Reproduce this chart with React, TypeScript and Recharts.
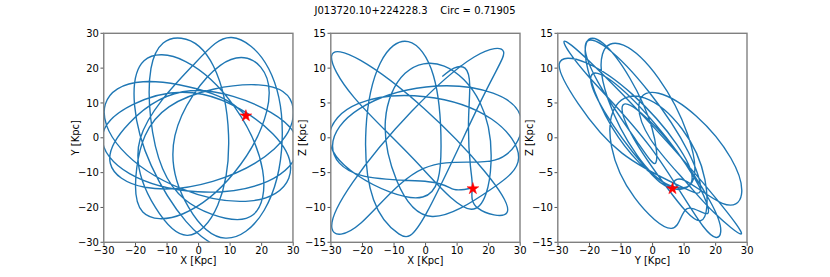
import React from 'react';
import { ComposedChart, Line, Scatter, XAxis, YAxis } from 'recharts';

// ---------- text ----------
const titleText = 'J013720.10+224228.3    Circ = 0.71905';
const xLabels = ['X [Kpc]', 'X [Kpc]', 'Y [Kpc]'];
const yLabels = ['Y [Kpc]', 'Z [Kpc]', 'Z [Kpc]'];

// ---------- ticks ----------
const ticks30 = [-30, -20, -10, 0, 10, 20, 30];
const ticks15 = [-15, -10, -5, 0, 5, 10, 15];

// ---------- star (current position) ----------
const starX = 15.0;
const starY = 6.3;
const starZ = -7.3;

// ---------- orbit, X-Y projection ----------
const xyX = [
  15.0,
  4.5, -17.6, -29.6, -24.6, -5.5, 16.6, 28.6, 23.6,
  1.2, -20.9, -30.5, -21.9, -0.2, 21.9, 31.5, 22.9,
  -2.5, -22.0, -28.0, -17.0, 4.5, 24.0, 30.0, 19.0,
  -9.4, -19.6, -17.7, -4.9, 11.4, 21.6, 19.7, 6.9,
  -7.5, -3.2, 8.5, 20.8, 26.5, 22.2, 10.5, -1.8,
  -18.5, -13.7, -3.5, 6.1, 9.5, 4.7, -5.5, -15.1,
  -11.4, 4.1, 17.3, 20.3, 11.4, -4.1, -17.3, -20.3,
  -15.0, -4.0, 5.3,
];
const xyY = [
  6.3,
  12.6, 16.1, 9.6, -3.1, -14.6, -18.1, -11.6, 1.1,
  12.5, 9.5, 0.1, -10.3, -15.5, -12.5, -3.1, 7.3,
  13.5, 4.2, -7.3, -14.2, -12.5, -3.2, 8.3, 15.2,
  8.9, -8.6, -21.3, -21.8, -9.9, 7.6, 20.3, 20.8,
  0.6, -19.9, -28.8, -20.8, -0.6, 19.9, 28.8, 20.8,
  -0.2, -20.0, -28.0, -19.3, 0.8, 20.6, 28.6, 19.9,
  -8.9, -21.9, -22.1, -9.3, 8.9, 21.9, 22.1, 9.3,
  -8.0, -24.0, -31.0,
];

// ---------- orbit, X-Z projection ----------
const xzX = [
  5.3, 9.0, 12.5, 14.0, 13.6, 14.2, 14.8,
  16.6, 25.8, 18.7, -0.5, -20.6, -29.8, -22.7, -3.5,
  14.5, 20.75, 17.2, 5.9, -6.5, -12.75, -9.2, 2.1,
  20.4, 29.5, 20.9, -0.1, -21.4, -30.5, -21.9, -0.9,
  4.9, 2.5, -5.5, -14.4, -18.9, -16.5, -8.5, 0.4,
  18.1, 24.7, 15.4, -4.4, -23.1, -29.7, -20.4, -0.6,
  21.9, 30.5, 21.4, 0.15, -20.9, -29.5, -20.4, 0.85,
  9.0, 14.8,
];
const xzZ = [
  8.8, 10.0, 10.0, 7.5, 2.0, -4.0, -7.2,
  -10.1, -10.75, -4.8, 4.2, 11.1, 11.75, 5.8, -3.2,
  -10.25, -3.5, 5.1, 10.3, 9.25, 2.5, -6.1, -11.3,
  -7.5, -2.9, 2.7, 5.9, 4.9, 0.3, -5.3, -8.5,
  -1.3, 8.9, 13.8, 10.7, 1.3, -8.9, -13.8, -10.7,
  5.8, 12.4, 11.6, 3.8, -6.4, -13.0, -12.2, -4.4,
  -3.2, 2.1, 6.4, 7.3, 4.2, -1.1, -5.4, -6.3,
  -7.4, -7.2,
];

// ---------- orbit, Y-Z projection ----------
const yzY = [
  6.0,
  10.1, 22.1, 28.2, 24.8, 13.9, 1.9, -4.2, -0.8, 10.1,
  19.4, 28.1, 20.3, 0.7, -19.4, -28.1, -20.3, -0.7,
  16.0, 21.6, 18.1, 7.5, -4.0, -9.6, -6.1, 4.5,
  15.2, 16.6, 9.3, -2.4, -11.6, -13.0, -5.7, 6.0,
  10.95, 17.5, 13.3, 0.6, -12.95, -19.5, -15.3, -2.6,
  6.25, 12.9, 11.1, 1.95, -9.25, -15.9, -14.1, -4.95,
  5.2, 12.4, 7.6, -6.3, -21.2, -29.6, -23.6, -9.7,
  8.5, 15.2, 11.3, -1.0, -14.5, -21.2, -17.3, -5.0,
  1.0, -0.2, -7.2, -15.8, -21.0, -19.8, -12.8, -4.2,
  1.5, 6.0,
];
const yzZ = [
  -7.2,
  -6.1, -9.4, -8.1, -2.9, 3.1, 6.4, 5.1, -0.1, -6.1,
  -10.7, -13.8, -8.8, 1.35, 10.7, 13.8, 8.8, -1.35,
  -12.7, -13.5, -9.0, -1.9, 3.7, 4.5, 0.0, -7.1,
  -11.9, -6.0, 1.3, 5.7, 4.6, -1.3, -8.6, -13.0,
  -10.15, -10.85, -5.8, 2.1, 8.15, 8.85, 3.8, -4.1,
  -7.3, -6.0, 0.5, 8.5, 13.3, 12.0, 5.5, -2.5,
  -6.8, -6.25, -0.9, 6.2, 10.8, 10.6, 4.9, -2.2,
  -6.9, -7.5, -2.0, 6.5, 12.9, 13.5, 8.0, -0.5,
  -3.6, 1.4, 8.55, 13.6, 13.6, 8.6, 1.45, -3.6,
  -5.8, -7.2,
];

// ---------- layout ----------
const FIG_W = 830;
const FIG_H = 277;
const PLOT_TOP = 33.3;
const PLOT_BOTTOM = 242.3;
const PLOT_W = 189.2;
const PLOT_LEFTS = [103.75, 330.8, 557.8];
const Y_AXIS_W = 60;
const X_AXIS_H = 30;
const RIGHT_PAD = 10;
const FONT = "'DejaVu Sans', 'Liberation Sans', sans-serif";
const LINE_COLOR = '#1f77b4';
const FRAME_COLOR = '#808080';

const fmt = (v: number) => (v < 0 ? '\u2212' + Math.abs(v) : String(v));

const StarShape = (props: any) => {
  const { cx, cy } = props;
  if (cx == null || cy == null) return null;
  const R = 6.2;
  const r = R * 0.382;
  const pts: string[] = [];
  for (let i = 0; i < 10; i++) {
    const ang = -Math.PI / 2 + (i * Math.PI) / 5;
    const rad = i % 2 === 0 ? R : r;
    pts.push(`${cx + rad * Math.cos(ang)},${cy + rad * Math.sin(ang)}`);
  }
  return <polygon points={pts.join(' ')} fill="#ff0000" stroke="#ff0000" strokeWidth={0.5} />;
};

type PanelProps = {
  left: number;
  xs: number[];
  ys: number[];
  sx: number;
  sy: number;
  xTicks: number[];
  yTicks: number[];
};

function Panel({ left, xs, ys, sx, sy, xTicks, yTicks }: PanelProps) {
  const data = xs.map((v, i) => ({ x: v, y: ys[i] }));
  const star = [{ x: sx, y: sy }];
  const width = Y_AXIS_W + PLOT_W + RIGHT_PAD;
  const bottomMargin = FIG_H - PLOT_BOTTOM - X_AXIS_H;
  const tickStyle = { fontSize: 10, fill: '#000', fontFamily: FONT };
  return (
    <div style={{ position: 'absolute', left: left - Y_AXIS_W, top: 0 }}>
      <ComposedChart
        width={width}
        height={FIG_H}
        margin={{ top: PLOT_TOP, right: RIGHT_PAD, bottom: bottomMargin, left: 0 }}
      >
        <XAxis
          type="number"
          dataKey="x"
          domain={[xTicks[0], xTicks[xTicks.length - 1]]}
          ticks={xTicks}
          interval={0}
          allowDataOverflow
          height={X_AXIS_H}
          tickSize={3.5}
          tickMargin={1}
          axisLine={false}
          tickLine={{ stroke: '#444', strokeWidth: 0.9 }}
          tick={tickStyle}
          tickFormatter={fmt}
        />
        <YAxis
          type="number"
          dataKey="y"
          domain={[yTicks[0], yTicks[yTicks.length - 1]]}
          ticks={yTicks}
          interval={0}
          allowDataOverflow
          width={Y_AXIS_W}
          tickSize={3.5}
          tickMargin={1.5}
          axisLine={false}
          tickLine={{ stroke: '#444', strokeWidth: 0.9 }}
          tick={tickStyle}
          tickFormatter={fmt}
        />
        <Line
          data={data}
          dataKey="y"
          type="natural"
          stroke={LINE_COLOR}
          strokeWidth={1.4}
          dot={false}
          activeDot={false}
          isAnimationActive={false}
        />
        <Scatter data={star} dataKey="y" shape={StarShape} isAnimationActive={false} />
      </ComposedChart>
    </div>
  );
}

export default function App() {
  const plotH = PLOT_BOTTOM - PLOT_TOP;
  const midY = (PLOT_TOP + PLOT_BOTTOM) / 2;
  return (
    <div
      style={{
        position: 'absolute',
        left: 0,
        top: 0,
        width: FIG_W,
        height: FIG_H,
        background: '#fff',
        fontFamily: FONT,
        overflow: 'hidden',
      }}
    >
      <Panel left={PLOT_LEFTS[0]} xs={xyX} ys={xyY} sx={starX} sy={starY} xTicks={ticks30} yTicks={ticks30} />
      <Panel left={PLOT_LEFTS[1]} xs={xzX} ys={xzZ} sx={starX} sy={starZ} xTicks={ticks30} yTicks={ticks15} />
      <Panel left={PLOT_LEFTS[2]} xs={yzY} ys={yzZ} sx={starY} sy={starZ} xTicks={ticks30} yTicks={ticks15} />
      <svg
        width={FIG_W}
        height={FIG_H}
        style={{ position: 'absolute', left: 0, top: 0, pointerEvents: 'none' }}
      >
        <text
          x={415}
          y={14.2}
          textAnchor="middle"
          fontSize={10}
          fontFamily={FONT}
          fill="#000"
          style={{ whiteSpace: 'pre' }}
          xmlSpace="preserve"
        >
          {titleText}
        </text>
        {PLOT_LEFTS.map((l, i) => (
          <g key={i}>
            <rect x={l} y={PLOT_TOP} width={PLOT_W} height={plotH} fill="none" stroke={FRAME_COLOR} strokeWidth={1.4} />
            <text x={l + PLOT_W / 2} y={264.3} textAnchor="middle" fontSize={10} fontFamily={FONT} fill="#000">
              {xLabels[i]}
            </text>
            <text
              x={0}
              y={0}
              transform={`translate(${l - 28.5}, ${midY}) rotate(-90)`}
              textAnchor="middle"
              dominantBaseline="central"
              fontSize={10}
              fontFamily={FONT}
              fill="#000"
            >
              {yLabels[i]}
            </text>
          </g>
        ))}
      </svg>
    </div>
  );
}
